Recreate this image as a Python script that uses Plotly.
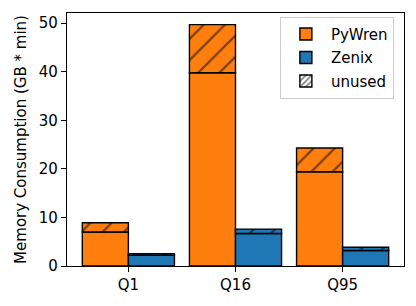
import plotly.graph_objects as go

categories = ["Q1", "Q16", "Q95"]
pywren_used = [7.0, 39.8, 19.4]
pywren_total = [8.9, 49.7, 24.3]
zenix_used = [2.2, 6.7, 3.2]
zenix_total = [2.55, 7.6, 3.85]
y_ticks = [0, 10, 20, 30, 40, 50]

ORANGE = "#ff7f0e"
BLUE = "#1f77b4"
W = 0.43
xs = list(range(len(categories)))
pywren_unused = [t - u for t, u in zip(pywren_total, pywren_used)]
zenix_unused = [t - u for t, u in zip(zenix_total, zenix_used)]

line = dict(color="black", width=1.4)
pat = dict(shape="/", fgcolor="black", size=15, solidity=0.15)

fig = go.Figure()
fig.add_bar(x=xs, y=pywren_used, width=W, offset=-W, name="PyWren", legendgroup="a",
            marker=dict(color=ORANGE, line=line))
fig.add_bar(x=xs, y=zenix_used, width=W, offset=0, name="Zenix", legendgroup="b",
            marker=dict(color=BLUE, line=line))
fig.add_bar(x=xs, y=pywren_unused, base=pywren_used, width=W, offset=-W,
            showlegend=False, legendgroup="a",
            marker=dict(color=ORANGE, line=line, pattern=dict(**pat, bgcolor=ORANGE)))
fig.add_bar(x=xs, y=zenix_unused, base=zenix_used, width=W, offset=0,
            showlegend=False, legendgroup="b",
            marker=dict(color=BLUE, line=line, pattern=dict(**pat, bgcolor=BLUE)))
fig.add_bar(x=[0], y=[None], width=W, name="unused", legendgroup="c",
            marker=dict(color="white", line=line,
                        pattern=dict(shape="/", fgcolor="black", bgcolor="white", size=5, solidity=0.4)))

# page body has an 8px margin: figure is drawn 8px right/down, so size/margins compensate
fig.update_layout(
    barmode="overlay",
    width=408, height=298,
    margin=dict(l=59, r=12, t=5, b=40),
    paper_bgcolor="white", plot_bgcolor="white",
    font=dict(family="DejaVu Sans", size=15, color="black"),
    showlegend=True,
    legend=dict(x=0.97, y=0.985, xanchor="right", yanchor="top",
                bgcolor="rgba(255,255,255,0.8)", bordercolor="#cccccc", borderwidth=1,
                font=dict(size=15), itemwidth=40, tracegroupgap=1),
)
fig.update_xaxes(range=[-W * 1.1 - 0.1, 2 + W * 1.1 + 0.1], tickvals=xs, ticktext=categories,
                 showline=True, linecolor="black", linewidth=1.2, mirror=True, automargin=False,
                 ticks="outside", ticklen=5, tickcolor="black", showgrid=False, zeroline=False)
fig.update_yaxes(range=[0, 52.1], tickvals=y_ticks, automargin=False,
                 title=dict(text="Memory Consumption (GB * min)", standoff=8, font=dict(size=15)),
                 showline=True, linecolor="black", linewidth=1.2, mirror=True,
                 ticks="outside", ticklen=5, tickcolor="black", showgrid=False, zeroline=False)

fig.write_html("out.html")
